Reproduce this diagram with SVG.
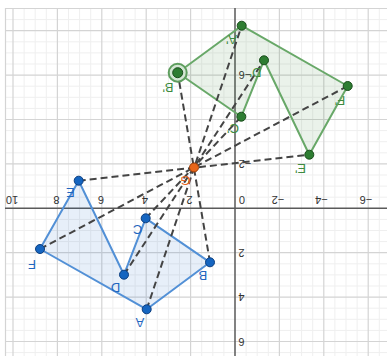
<svg xmlns="http://www.w3.org/2000/svg" width="387" height="356" viewBox="0 0 387 356">
<style>
.minor{stroke:#efefef;stroke-width:1;fill:none}
.major{stroke:#d4d4d4;stroke-width:1.2;fill:none}
.axis{stroke:#5a5a5a;stroke-width:1.5;fill:none}
.num{font-family:"Liberation Sans",Arial,sans-serif;font-size:11px;fill:#333;text-anchor:middle}
.lbl{font-family:"Liberation Sans",Arial,sans-serif;font-size:13px;text-anchor:middle}
.blbl{fill:#1f66c0}
.glbl{fill:#3d8b3f}
.polyB{fill:#1565c0;fill-opacity:0.1;stroke:#5290d6;stroke-width:2;stroke-linejoin:round}
.polyG{fill:#2e7d32;fill-opacity:0.1;stroke:#68a868;stroke-width:2;stroke-linejoin:round}
.dash{stroke:#444;stroke-width:2;stroke-dasharray:7 4;fill:none}
.ptB{fill:#1565c0;stroke:#0d3f80;stroke-width:1}
.ptG{fill:#2e7d32;stroke:#1a4d1c;stroke-width:1}
.ptO{fill:#e8661a;stroke:#9a3d08;stroke-width:1}
</style>
<rect x="0" y="0" width="387" height="356" fill="#fff"/>
<g id="grid">
<path class="minor" d="M24.1 8V356M35.2 8V356M46.3 8V356M68.5 8V356M79.6 8V356M90.7 8V356M112.9 8V356M124 8V356M135.1 8V356M157.3 8V356M168.4 8V356M179.5 8V356M201.7 8V356M212.8 8V356M223.9 8V356M246.1 8V356M257.2 8V356M268.3 8V356M290.5 8V356M301.6 8V356M312.7 8V356M334.9 8V356M346 8V356M357.1 8V356M379.3 8V356"/>
<path class="minor" d="M5 19.6H387M5 41.8H387M5 52.9H387M5 64H387M5 86.2H387M5 97.3H387M5 108.4H387M5 130.6H387M5 141.7H387M5 152.8H387M5 175H387M5 186.1H387M5 197.2H387M5 219.4H387M5 230.5H387M5 241.6H387M5 263.8H387M5 274.9H387M5 286H387M5 308.2H387M5 319.3H387M5 330.4H387M5 352.6H387"/>
<path class="major" d="M13 8V356M57.4 8V356M101.8 8V356M146.2 8V356M190.6 8V356M279.4 8V356M323.8 8V356M368.2 8V356"/>
<path class="major" d="M5 30.7H387M5 75.1H387M5 119.5H387M5 163.9H387M5 252.7H387M5 297.1H387M5 341.5H387"/>
<path class="major" d="M5 8.5H387M5.5 8V356"/>
<path class="axis" d="M5 208.3H387M235 8V356"/>
</g>
<g id="axis-numbers">
<text class="num" transform="translate(12,200) rotate(180)" y="4">10</text>
<text class="num" transform="translate(56.5,200) rotate(180)" y="4">8</text>
<text class="num" transform="translate(101,200) rotate(180)" y="4">6</text>
<text class="num" transform="translate(145,200) rotate(180)" y="4">4</text>
<text class="num" transform="translate(189.5,200) rotate(180)" y="4">2</text>
<text class="num" transform="translate(242,200) rotate(180)" y="4">0</text>
<text class="num" transform="translate(278,200) rotate(180)" y="4">−2</text>
<text class="num" transform="translate(321.5,200) rotate(180)" y="4">−4</text>
<text class="num" transform="translate(366,200) rotate(180)" y="4">−6</text>
<text class="num" transform="translate(241.5,252.5) rotate(180)" y="4">2</text>
<text class="num" transform="translate(241.5,297) rotate(180)" y="4">4</text>
<text class="num" transform="translate(241.5,341.5) rotate(180)" y="4">6</text>
<text class="num" transform="translate(245,164) rotate(180)" y="4">−2</text>
<text class="num" transform="translate(245,75) rotate(180)" y="4">−6</text>
</g>
<g id="polygon-ABCDEF">
<polygon class="polyB" points="146.7,309.3 210,262.3 145.7,218.3 124,274.7 78.7,180.7 40,249"/>
</g>
<g id="polygon-image">
<polygon class="polyG" points="241.7,25.7 177.7,72.7 241.3,116.7 264,60.3 309.3,154.7 347.7,86"/>
</g>
<g id="connectors">
<line class="dash" x1="146.7" y1="309.3" x2="241.7" y2="25.7"/>
<line class="dash" x1="210" y1="262.3" x2="177.7" y2="72.7"/>
<line class="dash" x1="145.7" y1="218.3" x2="241.3" y2="116.7"/>
<line class="dash" x1="124" y1="274.7" x2="264" y2="60.3"/>
<line class="dash" x1="78.7" y1="180.7" x2="309.3" y2="154.7"/>
<line class="dash" x1="40" y1="249" x2="347.7" y2="86"/>
</g>
<g id="A"><circle class="ptB" cx="146.7" cy="309.3" r="4.5"/><text class="lbl blbl" transform="translate(140,322) rotate(180)" y="4.5">A</text></g>
<g id="B"><circle class="ptB" cx="210" cy="262.3" r="4.5"/><text class="lbl blbl" transform="translate(203,275) rotate(180)" y="4.5">B</text></g>
<g id="C"><circle class="ptB" cx="145.7" cy="218.3" r="4.5"/><text class="lbl blbl" transform="translate(137.5,229) rotate(180)" y="4.5">C</text></g>
<g id="D"><circle class="ptB" cx="124" cy="274.7" r="4.5"/><text class="lbl blbl" transform="translate(115.5,287) rotate(180)" y="4.5">D</text></g>
<g id="E"><circle class="ptB" cx="78.7" cy="180.7" r="4.5"/><text class="lbl blbl" transform="translate(70.5,192.5) rotate(180)" y="4.5">E</text></g>
<g id="F"><circle class="ptB" cx="40" cy="249" r="4.5"/><text class="lbl blbl" transform="translate(32,264) rotate(180)" y="4.5">F</text></g>
<g id="A-prime"><circle class="ptG" cx="241.7" cy="25.7" r="4.5"/><text class="lbl glbl" transform="translate(231.5,39) rotate(180)" y="4.5">A'</text></g>
<g id="B-prime"><circle cx="177.7" cy="72.7" r="9" fill="#d3e6d3" stroke="#5e9e5e" stroke-width="2"/><circle class="ptG" cx="177.7" cy="72.7" r="5"/><text class="lbl glbl" transform="translate(168,87) rotate(180)" y="4.5">B'</text></g>
<g id="C-prime"><circle class="ptG" cx="241.3" cy="116.7" r="4.5"/><text class="lbl glbl" transform="translate(233,128.5) rotate(180)" y="4.5">C'</text></g>
<g id="D-prime"><circle class="ptG" cx="264" cy="60.3" r="4.5"/><text class="lbl glbl" transform="translate(255.5,72) rotate(180)" y="4.5">D'</text></g>
<g id="E-prime"><circle class="ptG" cx="309.3" cy="154.7" r="4.5"/><text class="lbl glbl" transform="translate(300.5,168.5) rotate(180)" y="4.5">E'</text></g>
<g id="F-prime"><circle class="ptG" cx="347.7" cy="86" r="4.5"/><text class="lbl glbl" transform="translate(340,100) rotate(180)" y="4.5">F'</text></g>
<g id="G"><circle class="ptO" cx="194" cy="167.5" r="4.5"/><text class="lbl" fill="#e8661a" transform="translate(185.5,180) rotate(180)" y="4.5">G</text></g>
</svg>
